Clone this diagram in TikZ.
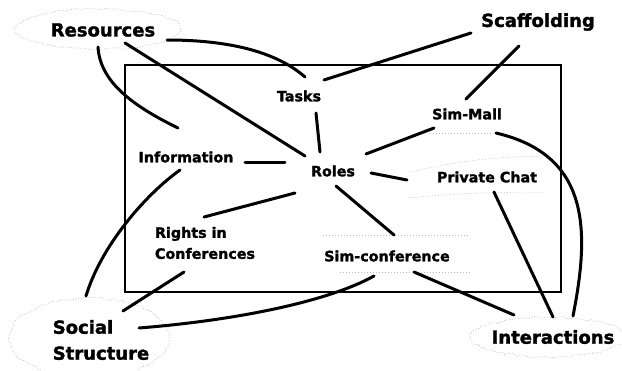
\documentclass[tikz,border=0pt]{standalone}
\usepackage{fontspec}
\setmainfont{DejaVu Sans}[BoldFeatures={FakeBold=1.6}]
\usetikzlibrary{calc,decorations.pathmorphing}
\begin{document}
\begin{tikzpicture}[x=1pt,y=-1pt,
  big/.style={font=\fontsize{18}{26}\selectfont\bfseries, inner sep=0pt, align=left},
  small/.style={font=\fontsize{14.3}{21}\selectfont\bfseries, inner sep=0pt, align=left},
  conn/.style={line width=3pt, line cap=round},
  frame/.style={line width=2.5pt},
  cloudline/.style={gray!55, line width=0.6pt, dash pattern=on 1pt off 1.8pt, decorate, decoration={random steps, segment length=4pt, amplitude=1.2pt}},
  faint/.style={gray!55, line width=0.5pt, dash pattern=on 1pt off 2pt}]
\useasboundingbox (0,0) rectangle (622,370);
\draw[frame] (125,65) rectangle (561,292);

\node[big] (res) at (103,30) {Resources};
\node[big] (scaf) at (538,22) {Scaffolding};
\node[big] (social) at (101,340) {Social\\Structure};
\node[big] (inter) at (553,337) {Interactions};
\node[small] (tasks) at (299,96) {Tasks};
\node[small] (simmall) at (467,114) {Sim-Mall};
\node[small] (info) at (186,157) {Information};
\node[small] (roles) at (333,171) {Roles};
\node[small] (chat) at (487,177) {Private Chat};
\node[small] (rights) at (205,243) {Rights in\\Conferences};
\node[small] (simconf) at (387,256) {Sim-conference};

% clouds and faint outlines
\draw[cloudline] ($(res)+(-5,-1)$) ellipse [x radius=83pt, y radius=20pt];
\draw[cloudline] ($(social)+(-12,-2)$) ellipse [x radius=80pt, y radius=40pt];
\draw[cloudline] ($(inter)+(-5,0)$) ellipse [x radius=77pt, y radius=20pt];
\draw[faint] ($(chat)+(-76,-5)$) .. controls +(40,-10) and +(-40,-2) .. ($(chat)+(57,-20)$);
\draw[faint] ($(chat)+(-79,21)$) .. controls +(50,-5) and +(-40,0) .. ($(chat)+(57,15)$);
\draw[faint] ($(simconf)+(-64,-21)$) -- ($(simconf)+(83,-21)$);
\draw[faint] ($(simconf)+(-47,16)$) -- ($(simconf)+(83,16)$);
\draw[faint] ($(simmall)+(-37,19)$) -- ($(simmall)+(26,19)$);

% connectors
\draw[conn] ($(res)+(22,13)$) -- ($(roles)+(-28,-15)$);
\draw[conn] ($(res)+(-5,17)$) .. controls +(2,35) and +(-45,-22) .. ($(info)+(-8,-29)$);
\draw[conn] ($(res)+(64,10)$) .. controls +(70,0) and +(-25,-22) .. ($(tasks)+(6,-19)$);
\draw[conn] ($(scaf)+(-67,11)$) -- ($(tasks)+(25,-16)$);
\draw[conn] ($(scaf)+(-19,24)$) -- ($(simmall)+(-1,-15)$);
\draw[conn] ($(tasks)+(17,17)$) -- ($(roles)+(-13,-19)$);
\draw[conn] ($(simmall)+(-33,14)$) -- ($(roles)+(33,-17)$);
\draw[conn] ($(roles)+(38,2)$) -- ($(chat)+(-80,3)$);
\draw[conn] ($(info)+(59,5)$) -- ($(roles)+(-48,-9)$);
\draw[conn] ($(simmall)+(29,19)$) .. controls +(94,22) and +(17,-86) .. ($(inter)+(20,-21)$);
\draw[conn] ($(chat)+(7,15)$) -- ($(inter)+(0,-20)$);
\draw[conn] ($(roles)+(3,15)$) -- ($(simconf)+(7,-21)$);
\draw[conn] ($(simconf)+(27,16)$) -- ($(inter)+(-39,-22)$);
\draw[conn] ($(simconf)+(-13,20)$) .. controls +(-45,25) and +(100,-8) .. ($(social)+(38,-12)$);
\draw[conn] ($(rights)+(-1,-26)$) -- ($(roles)+(-38,22)$);
\draw[conn] ($(social)+(-15,-44)$) .. controls +(15,-50) and +(-35,25) .. ($(info)+(-6,13)$);
\draw[conn] ($(social)+(22,-29)$) -- ($(rights)+(-21,29)$);
\end{tikzpicture}
\end{document}
